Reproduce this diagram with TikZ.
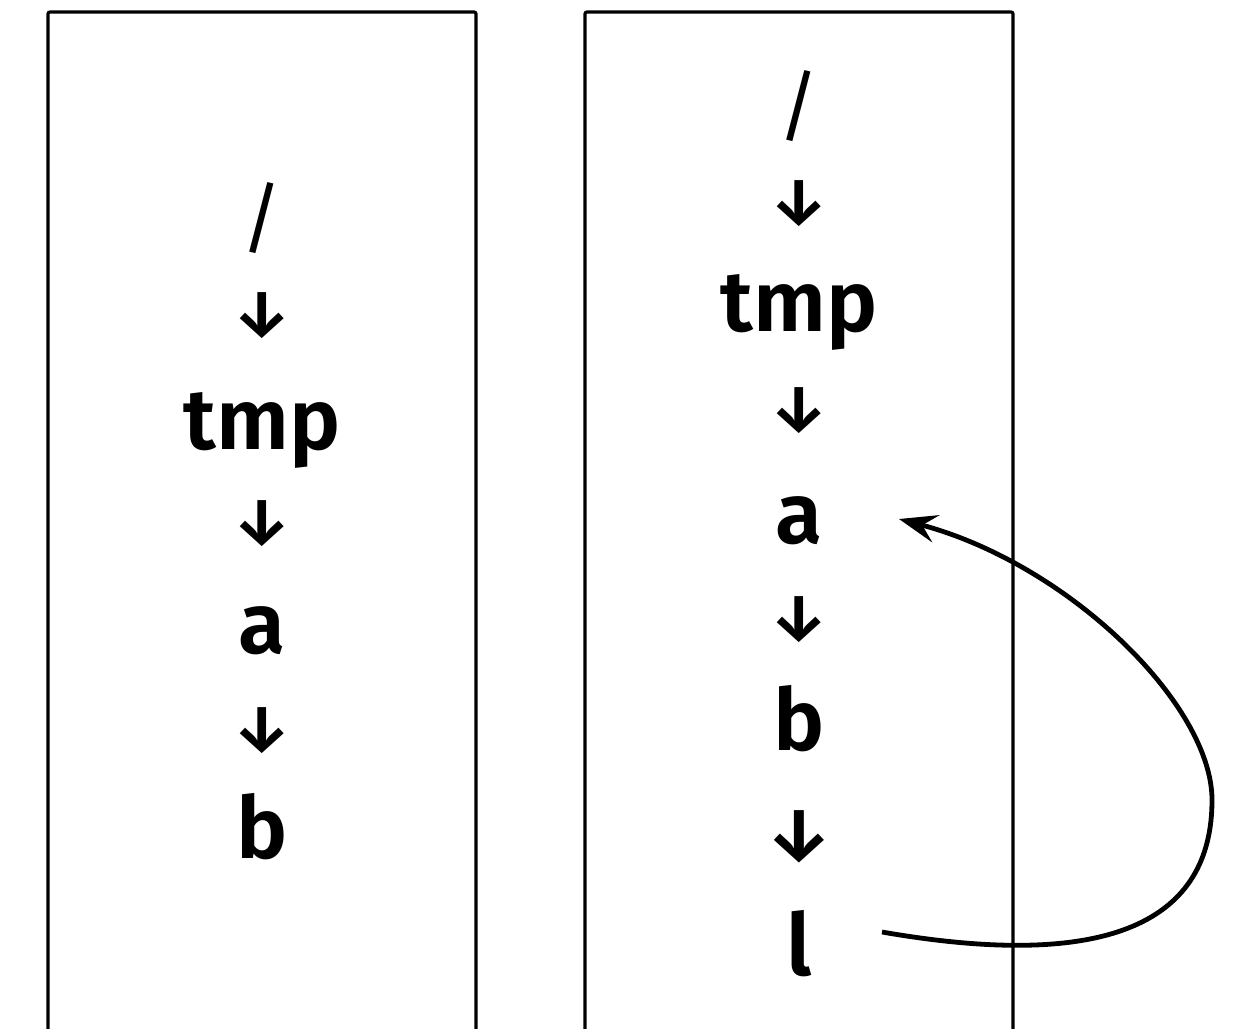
\documentclass[tikz,border=0pt]{standalone}
\usepackage{fontspec}
\setmainfont{Fira Sans}
\newfontfamily\namefont{Fira Sans SemiBold}
\usetikzlibrary{arrows.meta}
\tikzset{
  column/.style   = {line width=1.6pt, rounded corners=1pt},
  part/.style     = {inner sep=0pt, anchor=base, font=\namefont\fontsize{43}{50}\selectfont},
  sym/.style      = {inner sep=0pt, font=\fontsize{39}{46}\selectfont},
  down/.style     = {inner sep=0pt, font=\namefont\fontsize{33}{40}\selectfont},
  loopback/.style = {-{Stealth[length=19pt,width=14pt,inset=7pt]}, line width=2.4pt},
}

\begin{document}
\begin{tikzpicture}[x=0.5pt,y=-0.5pt]
\useasboundingbox (0,0) rectangle (1235,1028);

%% the two columns, open at the bottom
\draw[column] (48,1040) |- (476,12) -- (476,1040);
\draw[column] (585,1040) |- (1013,12) -- (1013,1040);

%% left path
\node[sym]  (rootL) at (262,218) {/};
\node[down] (d1L)   at (262,316) {↓};
\node[part] (tmpL)  at (262,449) {tmp};
\node[down] (d2L)   at (262,524) {↓};
\node[part] (aL)    at (262,653) {a};
\node[down] (d3L)   at (262,731) {↓};
\node[part] (bL)    at (262,858) {b};

%% right path
\node[sym]  (rootR) at (799,106) {/};
\node[down] (d1R)   at (799,204) {↓};
\node[part] (tmpR)  at (799,331) {tmp};
\node[down] (d2R)   at (799,411) {↓};
\node[part] (aR)    at (799,543) {a};
\node[down] (d3R)   at (799,620) {↓};
\node[part] (bR)    at (799,750) {b};
\node[down, scale=1.14] (d4R) at (799,837) {↓};
\node[part] (lR)    at (799,975) {l};

%% link back up to a
\coordinate (bend) at (1212,800);
\draw[loopback] ([shift={(83,-43)}]lR.base)
  .. controls +(230,40) and +(0,120) .. (bend)
  .. controls +(0,-95) and +(170,45) .. ([shift={(100,-24)}]aR.base);

\end{tikzpicture}
\end{document}
